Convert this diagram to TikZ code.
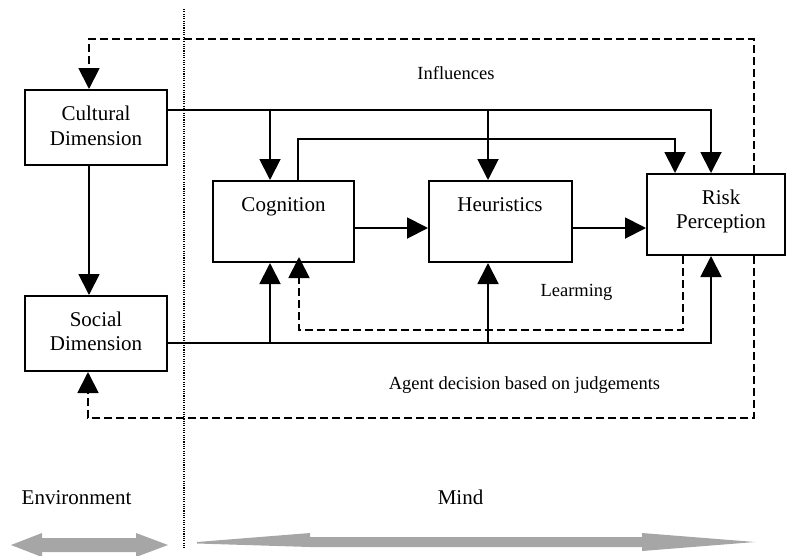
\documentclass[tikz,border=0pt]{standalone}
\usepackage{fontspec}
\setmainfont{Liberation Serif}
\usetikzlibrary{arrows.meta}
\definecolor{arrowgray}{RGB}{166,166,166}
\begin{document}
\begin{tikzpicture}[x=1pt,y=-1pt,
  box/.style={draw, line width=2pt, inner sep=0pt},
  tip/.style={-{Triangle[length=21pt,width=21pt]}},
  conn/.style={line width=1.9pt, tip},
  dconn/.style={line width=1.9pt, dash pattern=on 8pt off 4pt, tip},
  bigtxt/.style={font=\fontsize{21}{24}\selectfont, inner sep=0pt, anchor=base},
  smalltxt/.style={font=\fontsize{18.5}{22}\selectfont, inner sep=0pt, anchor=base},
  grayarrow/.style={fill=arrowgray, draw=none}]
\useasboundingbox (0,0) rectangle (786,555);

% boxes
\node[box, minimum width=142pt, minimum height=75pt] (cult) at (96,127.5) {};
\node[box, minimum width=142pt, minimum height=75pt] (soc) at (96,333.5) {};
\node[box, minimum width=141pt, minimum height=81pt] (cog) at (283.5,221.5) {};
\node[box, minimum width=143pt, minimum height=81pt] (heu) at (500.5,221.5) {};
\node[box, minimum width=138pt, minimum height=81pt] (rk) at (716,214.5) {};

% box texts
\node[bigtxt] (t1) at (96,120) {Cultural};
\node[bigtxt] (t2) at (96,145) {Dimension};
\node[bigtxt] (t3) at (96,326) {Social};
\node[bigtxt] (t4) at (96,350) {Dimension};
\node[bigtxt] (t5) at (283.5,211) {Cognition};
\node[bigtxt] (t6) at (500,211) {Heuristics};
\node[bigtxt] (t7) at (721,204) {Risk};
\node[bigtxt] (t8) at (721,228.5) {Perception};

% labels
\node[smalltxt] (t9) at (456,79) {Influences};
\node[smalltxt] (t10) at (576.5,296.7) {Learming};
\node[smalltxt] (t11) at (524.5,389) {Agent decision based on judgements};
\node[bigtxt] (t12) at (76.5,504.3) {Environment};
\node[bigtxt] (t13) at (460.5,504.3) {Mind};

% dotted separator
\coordinate (d1) at (184,9);
\coordinate (d2) at (184,548);
\draw[line width=1.1pt, dash pattern=on 1.1pt off 1.2pt] (d1) -- (d2);

% coordinates
\coordinate (h1) at (0,110);
\coordinate (xa) at (711,0);
\coordinate (b1) at (270,110);
\coordinate (b2) at (488,110);
\coordinate (c2) at (298,139);
\coordinate (xc) at (675,139);
\coordinate (m) at (0,228);
\coordinate (v1) at (89,0);
\coordinate (s1) at (0,343);
\coordinate (b3) at (270,343);
\coordinate (b4) at (488,343);
\coordinate (l1) at (683,330);
\coordinate (l2) at (299,330);
\coordinate (tr) at (754,39);
\coordinate (tl) at (89,39);
\coordinate (br) at (754,418);
\coordinate (bl) at (88,418);

% cultural influences
\draw[conn] (cult.east |- h1) -| (rk.north -| xa);
\draw[conn] (b1) -- (b1 |- cog.north);
\draw[conn] (b2) -- (b2 |- heu.north);
\draw[conn] (cog.north -| c2) |- (xc) -- (xc |- rk.north);

% main chain
\draw[conn] (cog.east |- m) -- (heu.west |- m);
\draw[conn] (heu.east |- m) -- (rk.west |- m);

% cultural -> social
\draw[conn] (cult.south -| v1) -- (soc.north -| v1);

% social influences
\draw[conn] (soc.east |- s1) -| (rk.south -| xa);
\draw[conn] (b3) -- (b3 |- cog.south);
\draw[conn] (b4) -- (b4 |- heu.south);

% learning
\draw[dconn, shorten >=-6pt] (rk.south -| l1) -- (l1) -- (l2) -- (l2 |- cog.south);

% feedback loops
\draw[dconn] (rk.north -| tr) -- (tr) -- (tl) -- (tl |- cult.north);
\draw[dconn] (rk.south -| br) -- (br) -- (bl) -- (bl |- soc.south);

% gray arrows
\fill[grayarrow] (11,545) -- (42,533) -- (42,538) -- (136,538) -- (136,533) -- (168,545)
  -- (136,557) -- (136,552) -- (42,552) -- (42,557) -- cycle;
\fill[grayarrow] (197,542) -- (310,533) -- (310,537) -- (642,537) -- (642,533) -- (755,542)
  -- (642,551) -- (642,547) -- (310,547) -- (197,543.5) -- cycle;
\end{tikzpicture}
\end{document}
